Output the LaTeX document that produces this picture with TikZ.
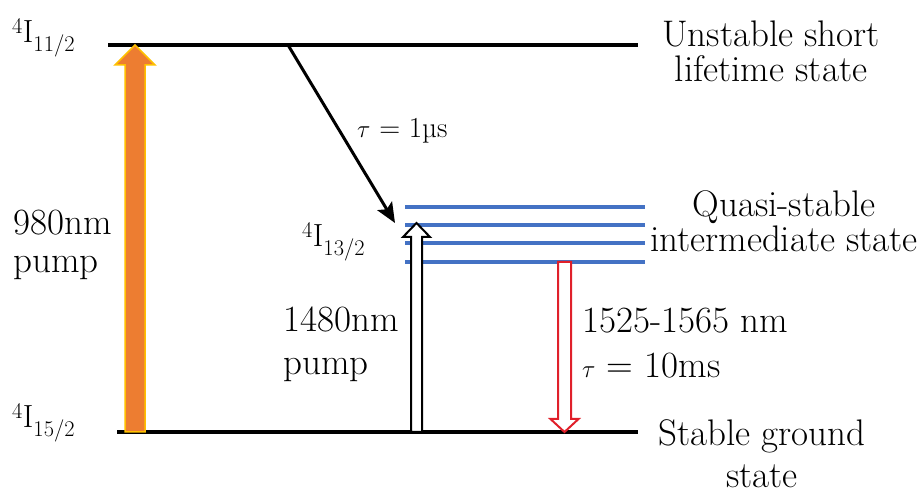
\documentclass[tikz,border=0pt]{standalone}
\usepackage{fontspec}
\usetikzlibrary{arrows.meta,calc}

\definecolor{levelblue}{HTML}{4472C4}
\definecolor{pumporange}{HTML}{ED7D31}
\definecolor{pumpyellow}{HTML}{FFC000}
\definecolor{emitred}{HTML}{E0202A}

% block arrow: style, from, to, shaft half width, head half width, head length
\newcommand{\blockarrow}[6]{%
  \path ($(#3)!#6!(#2)$) coordinate (headbase);
  \draw[#1] ($(#2)!#4!90:(#3)$) -- ($(headbase)!#4!-90:(#2)$)
    -- ($(headbase)!#5!-90:(#2)$) -- (#3) -- ($(headbase)!#5!90:(#2)$)
    -- ($(headbase)!#4!90:(#2)$) -- ($(#2)!#4!-90:(#3)$) -- cycle;}

\begin{document}
\begin{tikzpicture}[x=1pt,y=-1pt,
  level/.style={line width=4pt},
  sublevel/.style={line width=3.5pt, levelblue},
  decay/.style={-{Stealth[length=20pt,width=17pt,inset=4pt]}, line width=3pt},
  pumpfill/.style={fill=pumporange, draw=pumpyellow, line width=1.5pt},
  hollow/.style={fill=white, draw=black, line width=2pt},
  emit/.style={fill=white, draw=emitred, line width=2pt},
  txt/.style={font=\fontsize{37}{37}\selectfont, inner sep=0pt},
  lbl/.style={font=\fontsize{32}{32}\selectfont, inner sep=0pt}
]
\useasboundingbox (0,0) rectangle (922,494);

% energy levels
\coordinate (top-l) at (108,45);
\coordinate (top-r) at (638,45);
\coordinate (gnd-l) at (117,432);
\coordinate (gnd-r) at (638,432);
\draw[level] (top-l) -- (top-r);
\draw[level] (gnd-l) -- (gnd-r);
\foreach \y [count=\i] in {207,225,243,262}
  \draw[sublevel] (405,\y) coordinate (q\i-l) -- (645,\y) coordinate (q\i-r);

% level labels
\node[lbl, anchor=base west] (lvl11) at (12,43) {\textsuperscript{4}I\textsubscript{11/2}};
\node[lbl, anchor=base west] (lvl13) at (302,247) {\textsuperscript{4}I\textsubscript{13/2}};
\node[lbl, anchor=base west] (lvl15) at (12,428) {\textsuperscript{4}I\textsubscript{15/2}};

% 980nm pump
\coordinate (p980-s) at (135,432);
\coordinate (p980-t) at (135,45);
\blockarrow{pumpfill}{p980-s}{p980-t}{10pt}{20pt}{20pt}

% 1480nm pump
\coordinate (p1480-s) at (416.5,432);
\coordinate (p1480-t) at (416.5,223);
\blockarrow{hollow}{p1480-s}{p1480-t}{5.5pt}{13.5pt}{14pt}

% emission
\coordinate (em-s) at (564.5,262);
\coordinate (em-t) at (564.5,432);
\blockarrow{emit}{em-s}{em-t}{6.5pt}{14pt}{13pt}

% fast decay
\coordinate (decay-s) at (288,45);
\coordinate (decay-t) at (395,223);
\draw[decay] (decay-s) -- (decay-t);
\node[font=\fontsize{29}{29}\selectfont, inner sep=0pt, anchor=base west] (tau1) at (357,138) {$\tau$ = 1µs};

% texts
\node[txt, anchor=base west] (p980a) at (13,235) {980nm};
\node[txt, anchor=base west] (p980b) at (13,273) {pump};
\node[txt, anchor=base west] (p1480a) at (283,332) {1480nm};
\node[txt, anchor=base west] (p1480b) at (283,375) {pump};
\node[txt, anchor=base west] (em1) at (582,333) {1525-1565 nm};
\node[txt, anchor=base west] (em2) at (582,378) {$\tau$ = 10ms};

\node[txt, anchor=base] (unst1) at (771,47) {Unstable short};
\node[txt, anchor=base] (unst2) at (771,82) {lifetime state};
\node[txt, anchor=base] (quasi1) at (784,217) {Quasi-stable};
\node[txt, anchor=base] (quasi2) at (784,252) {intermediate state};
\node[txt, anchor=base] (stab1) at (762,446) {Stable ground};
\node[txt, anchor=base] (stab2) at (762,488) {state};
\end{tikzpicture}
\end{document}
